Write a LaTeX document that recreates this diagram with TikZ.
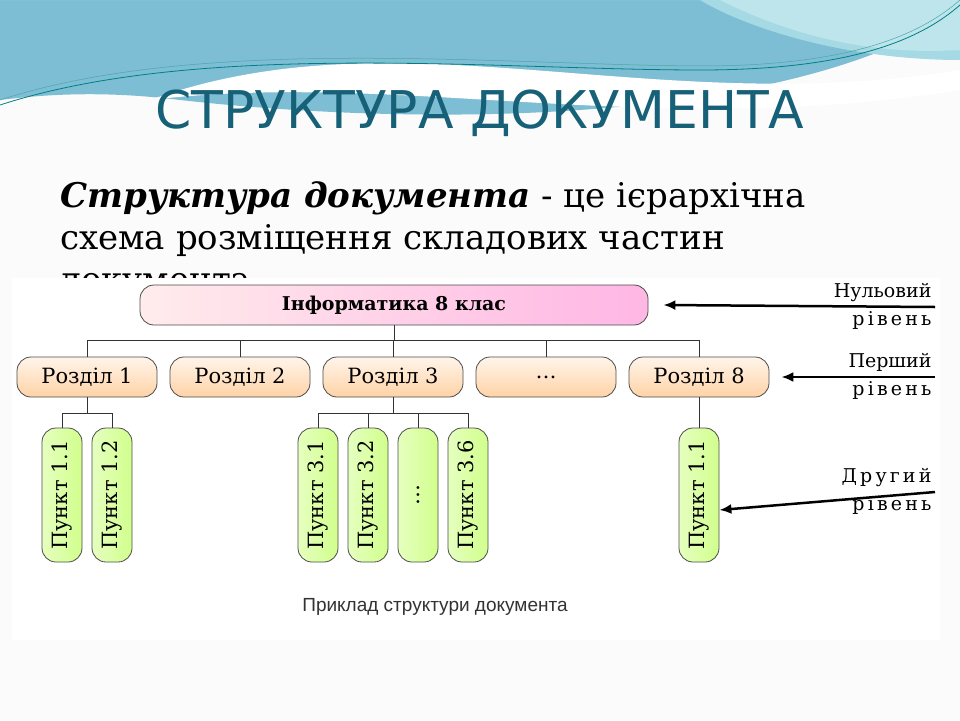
\documentclass[tikz,border=0pt]{standalone}
\usepackage{fontspec}
\setmainfont{DejaVu Serif}
\newfontfamily\sansf{DejaVu Sans}
\newfontfamily\lsans{Liberation Sans}
\usetikzlibrary{arrows.meta}
\definecolor{titlec}{RGB}{22,96,120}
\definecolor{wave1}{RGB}{125,190,212}
\definecolor{wave2}{RGB}{165,218,228}
\definecolor{wave3}{RGB}{190,228,236}
\begin{document}
\begin{tikzpicture}[x=1pt,y=-1pt,
 lvl0/.style={draw=black!70,line width=0.8pt,rounded corners=14pt,left color=pink!30,right color=magenta!30!pink!60,minimum width=508pt,minimum height=40pt,font=\bfseries\fontsize{19}{21}\selectfont},
 lvl1/.style={draw=black!70,line width=0.8pt,rounded corners=14pt,top color=orange!8,bottom color=orange!35,minimum width=140pt,minimum height=40pt,font=\fontsize{21}{23}\selectfont},
 lvl2/.style={draw=black!70,line width=0.8pt,rounded corners=14pt,left color=yellow!60!green!25,right color=yellow!60!green!45,minimum width=134pt,minimum height=40pt,rotate=90,font=\fontsize{21}{23}\selectfont},
 con/.style={line width=0.9pt,black!80},
 arr/.style={line width=2.5pt,-{Latex[length=12pt,width=10pt]}},
 lab/.style={font=\fontsize{19}{21}\selectfont,anchor=east}]
\useasboundingbox (0,0) rectangle (960,720);
\fill[white!97!gray] (0,0) rectangle (960,720);
% waves
\fill[wave1] (0,0) -- (960,0) -- (960,10) .. controls (800,120) and (450,130) .. (180,100) .. controls (100,90) and (40,95) .. (0,100) -- cycle;
\fill[white] (150,100) .. controls (400,10) and (650,120) .. (960,70) -- (960,90) .. controls (650,140) and (400,70) .. (150,100);
\fill[wave2] (0,0) -- (700,0) .. controls (750,30) and (850,60) .. (960,60) -- (960,0) -- cycle;
\fill[wave3] (720,0) .. controls (800,40) and (880,55) .. (960,50) -- (960,0) -- cycle;
\draw[teal,line width=0.8pt] (0,105) .. controls (200,40) and (500,70) .. (700,70) .. controls (850,70) and (920,40) .. (960,5);
\draw[teal!70,line width=0.5pt] (0,100) .. controls (200,35) and (500,65) .. (700,66) .. controls (850,66) and (920,35) .. (960,0);
\node[text=titlec,font=\sansf\fontsize{52}{56}\selectfont] (title) at (480,113) {СТРУКТУРА ДОКУМЕНТА};
\node[anchor=west,align=left,font=\fontsize{34}{42}\selectfont,inner sep=0] (def) at (60,240) {\textbf{\textit{Структура документа}} - це ієрархічна\\схема розміщення складових частин\\документа};
\fill[white] (12,278) rectangle (940,640);
\node[lvl0] (n0) at (394,305) {Інформатика 8 клас};
\node[lvl1] (r1) at (87,377) {Розділ 1};
\node[lvl1] (r2) at (240,377) {Розділ 2};
\node[lvl1] (r3) at (393,377) {Розділ 3};
\node[lvl1] (r4) at (546,377) {\ldots};
\node[lvl1] (r8) at (699,377) {Розділ 8};
\foreach \n/\x/\t in {p11/62/Пункт 1.1,p12/112/Пункт 1.2,p31/318/Пункт 3.1,p32/368/Пункт 3.2,p3x/418/\ldots,p36/468/Пункт 3.6,p81/699/Пункт 1.1}
  \node[lvl2] (\n) at (\x,495) {\t};
\foreach \r in {r1,r2,r3,r4,r8} \draw[con] (n0.south) -- ++(0,15) -| (\r.north);
\draw[con] (r1.south) -- ++(0,16) -| (p11.east);
\draw[con] (r1.south) -- ++(0,16) -| (p12.east);
\foreach \p in {p31,p32,p3x,p36} \draw[con] (r3.south) -- ++(0,16) -| (\p.east);
\draw[con] (r8.south) -- (p81.east);
\coordinate (a0) at (935,307); \coordinate (a1) at (935,377); \coordinate (a2) at (935,492);
\draw[arr] (a0) -- ([xshift=15pt]n0.east);
\draw[arr] (a1) -- ([xshift=12pt]r8.east);
\draw[arr] (a2) -- ([yshift=-15pt]p81.south);
\node[lab] (l0a) at (935,293) {Нульовий};
\node[lab] (l0b) at (935,320) {р\,і\,в\,е\,н\,ь};
\node[lab] (l1a) at (935,362) {Перший};
\node[lab] (l1b) at (935,390) {р\,і\,в\,е\,н\,ь};
\node[lab] (l2a) at (935,478) {Д\,р\,у\,г\,и\,й};
\node[lab] (l2b) at (935,505) {р\,і\,в\,е\,н\,ь};
\node[font=\lsans\fontsize{19}{21}\selectfont,text=black!80] (cap) at (435,607) {Приклад структури документа};
\end{tikzpicture}
\end{document}
